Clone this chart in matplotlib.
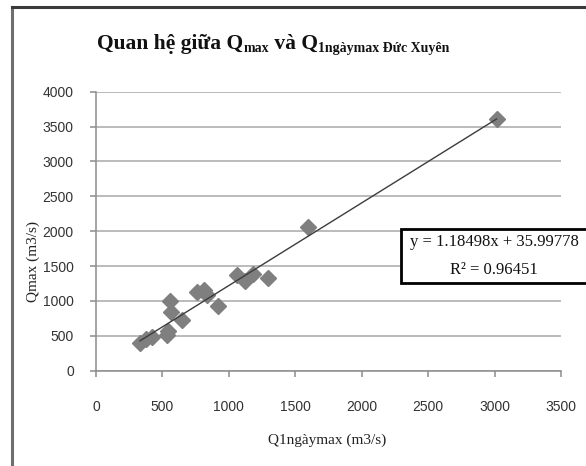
import matplotlib
matplotlib.use('Agg')
import matplotlib.pyplot as plt
import numpy as np
from matplotlib.patches import Rectangle
from matplotlib.lines import Line2D

# ---- data ----
q1ngay = [331, 374, 419, 532, 544, 557, 562, 645, 758, 813, 833, 920,
          1059, 1121, 1184, 1292, 1593, 3015]
qmax = [393, 450, 487, 512, 573, 1000, 846, 727, 1133, 1157, 1085, 930,
        1372, 1290, 1390, 1325, 2065, 3604]
slope = 1.18498
intercept = 35.99778
r2 = 0.96451
x_ticks = [0, 500, 1000, 1500, 2000, 2500, 3000, 3500]
y_ticks = [0, 500, 1000, 1500, 2000, 2500, 3000, 3500, 4000]

W, H = 586, 466
fig = plt.figure(figsize=(W / 100, H / 100), dpi=100)

def fx(px):
    return px / W

def fy(py):
    return 1 - py / H

# outer chart frame (left and top edges visible)
fig.add_artist(Line2D([fx(12), fx(12)], [0, fy(7)], color='#6e6e6e', lw=2.2))
fig.add_artist(Line2D([fx(12), 1], [fy(7), fy(7)], color='#3a3a3a', lw=2.2))

ax = fig.add_axes([fx(96), fy(370.7), (561 - 96) / W, (370.7 - 91.7) / H])
ax.set_xlim(0, 3500)
ax.set_ylim(0, 4000)
ax.set_xticks(x_ticks)
ax.set_yticks(y_ticks)
ax.set_xticklabels([str(t) for t in x_ticks])
ax.set_yticklabels([str(t) for t in y_ticks])
ax.yaxis.grid(True, color='#a8a8a8', lw=1.1)
ax.set_axisbelow(True)
for s in ['top', 'right']:
    ax.spines[s].set_visible(False)
for s in ['left', 'bottom']:
    ax.spines[s].set_color('#8c8c8c')
    ax.spines[s].set_linewidth(1.1)
ax.tick_params(direction='out', length=4, color='#8c8c8c', width=1.1,
               labelsize=10, labelcolor='#333333')
ax.tick_params(axis='x', pad=17)
ax.tick_params(axis='y', pad=12)
for lab in ax.get_xticklabels() + ax.get_yticklabels():
    lab.set_family('Liberation Sans')

# scatter points
ax.plot(q1ngay, qmax, linestyle='none', marker='D', markersize=8.5,
        color='#7f7f7f', markeredgecolor='#7f7f7f', zorder=3)

# linear trend line
xl = np.array([min(q1ngay), max(q1ngay)])
ax.plot(xl, slope * xl + intercept, color='#3c3c3c', lw=1.0, zorder=4)

# axis labels
fig.text(fx(327), fy(440), 'Q1ngàymax (m3/s)', family='Liberation Serif',
         fontsize=11, ha='center', va='center', color='#222222')
fig.text(fx(33), fy(262), 'Qmax (m3/s)', family='Liberation Serif',
         fontsize=11, ha='center', va='center', rotation=90, color='#222222')

# equation box
fig.add_artist(Rectangle((fx(401), fy(283)), fx(600) - fx(401), fy(229) - fy(283),
                         transform=fig.transFigure, facecolor='white',
                         edgecolor='black', lw=2, zorder=5, clip_on=False))
fig.text(fx(494), fy(242), 'y = 1.18498x + 35.99778', family='Liberation Serif',
         fontsize=12, ha='center', va='center', zorder=6, color='#111111')
fig.text(fx(494), fy(270), 'R² = 0.96451', family='Liberation Serif',
         fontsize=12, ha='center', va='center', zorder=6, color='#111111')

# composed title with subscripts
fig.canvas.draw()
renderer = fig.canvas.get_renderer()
S = 15.5
parts = [('Quan hệ giữa Q', S, 0), ('max', 10, -3), (' và Q', S, 0),
         ('1ngàymax Đức Xuyên', 10, -3)]
x0 = 97
base = 49
for txt, size, dy in parts:
    t = fig.text(fx(x0), fy(base - dy), txt, family='Liberation Serif',
                 fontsize=size, fontweight='bold', ha='left', va='baseline',
                 color='#111111')
    bb = t.get_window_extent(renderer)
    x0 += bb.width

fig.savefig('out.png', dpi=100)
